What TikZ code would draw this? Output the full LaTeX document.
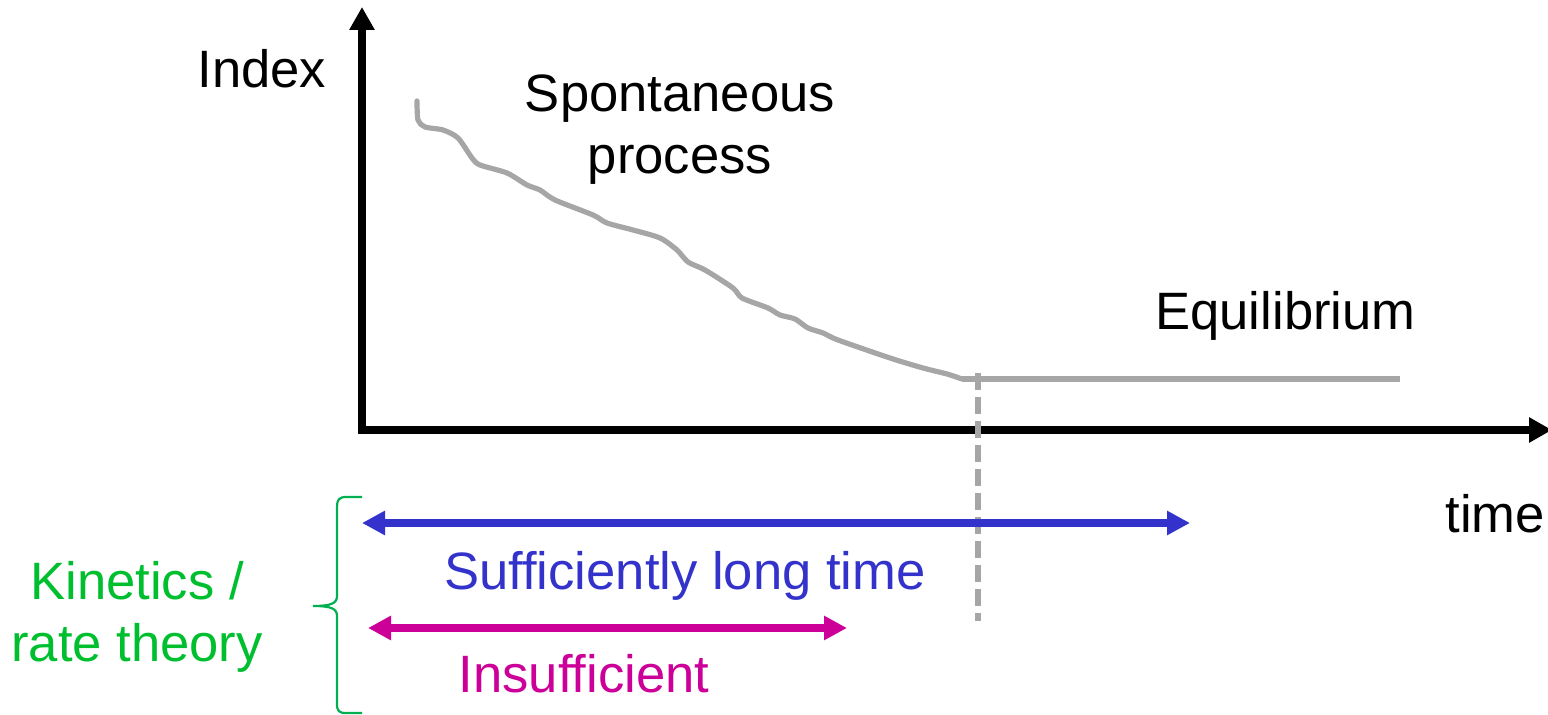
\documentclass[tikz,border=0pt]{standalone}
\usepackage{fontspec}
\setmainfont{Liberation Sans}
\usetikzlibrary{arrows.meta}
\definecolor{curvegray}{HTML}{A6A6A6}
\definecolor{longblue}{HTML}{3333CC}
\definecolor{shortmag}{HTML}{CC0099}
\definecolor{bracegreen}{HTML}{00B050}
\definecolor{kingreen}{HTML}{00BF2F}
\begin{document}
\begin{tikzpicture}[x=0.5pt,y=-0.5pt,
  lbl/.style={font=\fontsize{26.3}{31}\selectfont, inner sep=0pt, align=center},
  axisline/.style={line width=4pt, line join=miter,
    {Triangle[length=11.5pt,width=12pt]}-{Triangle[length=11.5pt,width=12pt]}},
  spanarrow/.style={line width=3.6pt,
    {Triangle[length=11.5pt,width=11.5pt]}-{Triangle[length=11.5pt,width=11.5pt]}},
  trend/.style={curvegray, line width=2.6pt, line cap=round, line join=round},
  marker/.style={curvegray, line width=3pt, dash pattern=on 8.5pt off 3.5pt},
]
\useasboundingbox (0,0) rectangle (1548,715);

% axes
\coordinate (ytip) at (362,7);
\coordinate (origin) at (362,430);
\coordinate (xtip) at (1552,430);
\draw[axisline] (ytip) -- (origin) -- (xtip);

% spontaneous decay towards equilibrium
\draw[trend] plot[smooth, tension=0.45] coordinates {
  (417,101) (418,120) (425,127) (443,130) (458,138) (472,158) (480,165)
  (507,173) (527,185) (540,190) (555,200) (593,215) (607,223) (633,230)
  (660,238) (677,250) (688,262) (705,270) (733,288) (742,298) (768,308)
  (780,315) (795,319) (808,328) (823,333) (838,340) (890,358) (923,368)
  (947,374) (962,379)};
\coordinate (eqstart) at (962,379);
\coordinate (eqend) at (1400,379);
\draw[curvegray, line width=3.2pt] (eqstart) -- (eqend);

% time at which equilibrium is reached
\coordinate (marktop) at (978,373);
\coordinate (markbot) at (978,621);
\draw[marker] (marktop) -- (markbot);

% time spans
\coordinate (longL) at (362,523);
\coordinate (longR) at (1190,523);
\draw[longblue, spanarrow] (longL) -- (longR);
\coordinate (shortL) at (368,628);
\coordinate (shortR) at (847,628);
\draw[shortmag, spanarrow] (shortL) -- (shortR);

% brace grouping the spans
\coordinate (bracetop) at (362,497);
\coordinate (bracetip) at (313,606);
\coordinate (bracebot) at (362,713);
\draw[bracegreen, line width=1.1pt]
  (bracetop) -- (346,497) .. controls (339,497) and (337,500) .. (337,507)
  -- (337,596) .. controls (337,603) and (332,606) .. (bracetip)
  .. controls (332,606) and (337,609) .. (337,616)
  -- (337,704) .. controls (337,711) and (339,713) .. (346,713) -- (bracebot);

% labels
\node[lbl, anchor=base west] (ylabel) at (197,88) {Index};
\node[lbl, anchor=base west] (xlabel) at (1445,533) {time};
\node[lbl] (spont) at (680,130) {Spontaneous\\process};
\node[lbl, anchor=base west] (equil) at (1155,330) {Equilibrium};
\node[lbl, anchor=base, text=longblue] (longlbl) at (685,590) {Sufficiently long time};
\node[lbl, anchor=base, text=shortmag] (shortlbl) at (584,693) {Insufficient};
\node[lbl, text=kingreen] (kinetics) at (137,617) {Kinetics /\\rate theory};
\end{tikzpicture}
\end{document}
